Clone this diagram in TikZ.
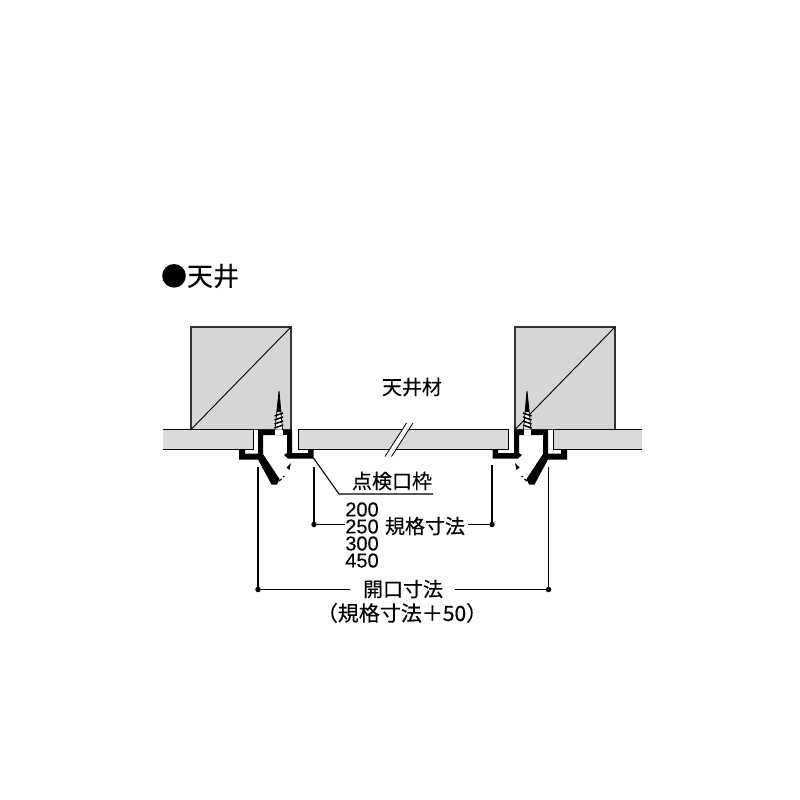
\documentclass[tikz,border=0pt]{standalone}
\usepackage{fontspec}
\setmainfont[FakeBold=0.25]{Liberation Sans}
\newfontfamily\cjk[FakeBold=0.35]{Noto Sans CJK JP}
\tikzset{
    wood/.style={fill=black!16, draw=black!80, line width=1.3pt},
    panel/.style={fill=black!15, draw=black, line width=1pt},
    dimline/.style={draw=black, line width=1.1pt},
    dimdot/.style={circle, fill=black, inner sep=0pt, minimum size=5.5pt},
    label/.style={inner sep=0pt, font=\cjk\fontsize{20}{20}\selectfont}
}
% one frame, drawn as the left one, mirrored for the right one
\newcommand{\frameprofile}{
    \fill[black] (258, 429.5) -- (292, 429.5) -- (292, 453) -- (308, 453) -- (308, 449) -- (313.5, 449) -- (313.5, 458.5)
        -- (288, 458.5) -- (284, 455) -- (287, 453) -- (287, 435) -- (263, 435) -- (263, 454) -- (279.5, 479) -- (277, 484.5) -- (271.5, 484.5)
        -- (258, 459.5) -- (239, 459.5) -- (239, 449) -- (245, 449) -- (245, 453.5) -- (258, 453.5) -- cycle;
    \fill[white] (275, 429.5) -- (282.5, 429.5) -- (282.5, 434.5) -- (275, 434.5) -- cycle;
    \draw[black, line width=0.8pt, fill=white] (275, 429.5) -- (279, 391) -- (282.5, 429.5);
    \fill[black] (276.8, 412) -- (279, 391) -- (281, 412) -- cycle;
    \foreach \y in {429, 425, 421, 417}
        \draw[black, line width=1.5pt] (274.5, \y - 1) -- (283, \y - 4);
    \draw[black, line width=1.3pt] (279, 481) -- (281.5, 479);
    \draw[black, line width=1pt] (283, 477) -- (284.5, 476);
    \fill[black] (291, 463) -- (289.5, 470) -- (286.5, 467.5) -- cycle;
}
\begin{document}
\begin{tikzpicture}[x=1pt, y=-1pt]
    \useasboundingbox (0, 0) rectangle (800, 800);
    \node[inner sep=0pt, font=\cjk\fontsize{26}{26}\selectfont] (title) at (200, 276) {●天井};
    % blocks
    \draw[wood] (191, 327) rectangle (291, 429.5);
    \draw[wood] (515, 327) rectangle (615, 429.5);
    \draw[line width=0.9pt] (191, 429.5) -- (291, 327);
    \draw[line width=0.9pt] (515, 429.5) -- (615, 327);
    % ceiling panels
    \draw[panel] (163, 429.5) -- (253, 429.5) -- (253, 449.5) -- (163, 449.5);
    \draw[panel] (642, 429.5) -- (553, 429.5) -- (553, 449.5) -- (642, 449.5);
    \draw[panel] (298, 429.5) rectangle (508, 449.5);
    \fill[white] (385, 456.5) -- (406.5, 423) -- (413, 423) -- (391.5, 456.5) -- cycle;
    \draw[line width=0.8pt] (385, 456.5) -- (406.5, 423);
    \draw[line width=0.8pt] (391.5, 456.5) -- (413, 423);
    \frameprofile
    \begin{scope}[xshift=806pt, xscale=-1]
        \frameprofile
    \end{scope}
    % dimensions
    \node[label] (material) at (412, 387) {天井材};
    \node[label] (framelabel) at (392, 481) {点検口枠};
    \node[label] (stdlabel) at (425, 526) {規格寸法};
    \node[inner sep=0pt, align=left, font=\fontsize{20}{17}\selectfont] (sizes) at (362, 535) {200\\250\\300\\450};
    \node[label] (openlabel) at (403, 589) {開口寸法};
    \node[label, font=\cjk\fontsize{21}{21}\selectfont] (openstd) at (402, 613) {（規格寸法＋50）};
    \coordinate (leadstart) at (313.5, 458);
    \coordinate (leadknee) at (339, 494);
    \coordinate (leadend) at (433, 494);
    \draw[dimline] (leadstart) -- (leadknee) -- (leadend);
    \coordinate (stdlefttop) at (314, 467);
    \coordinate (stdrighttop) at (492, 465);
    \coordinate (openlefttop) at (258, 467);
    \coordinate (openrighttop) at (548.5, 467);
    \node[dimdot] (stdleft) at (314, 524.5) {};
    \node[dimdot] (stdright) at (492, 524.5) {};
    \node[dimdot] (openleft) at (258, 589.5) {};
    \node[dimdot] (openright) at (548.5, 589.5) {};
    \draw[dimline] (stdlefttop) -- (stdleft);
    \draw[dimline] (stdrighttop) -- (stdright);
    \draw[dimline] (openlefttop) -- (openleft);
    \draw[dimline] (openrighttop) -- (openright);
    \draw[dimline] (stdleft) -- (sizes.west |- stdleft);
    \draw[dimline] (stdlabel.east) ++(3, -1.5) -- (stdright);
    \draw[dimline] (openleft) -- (350, 589.5);
    \draw[dimline] (455, 589.5) -- (openright);
\end{tikzpicture}
\end{document}
